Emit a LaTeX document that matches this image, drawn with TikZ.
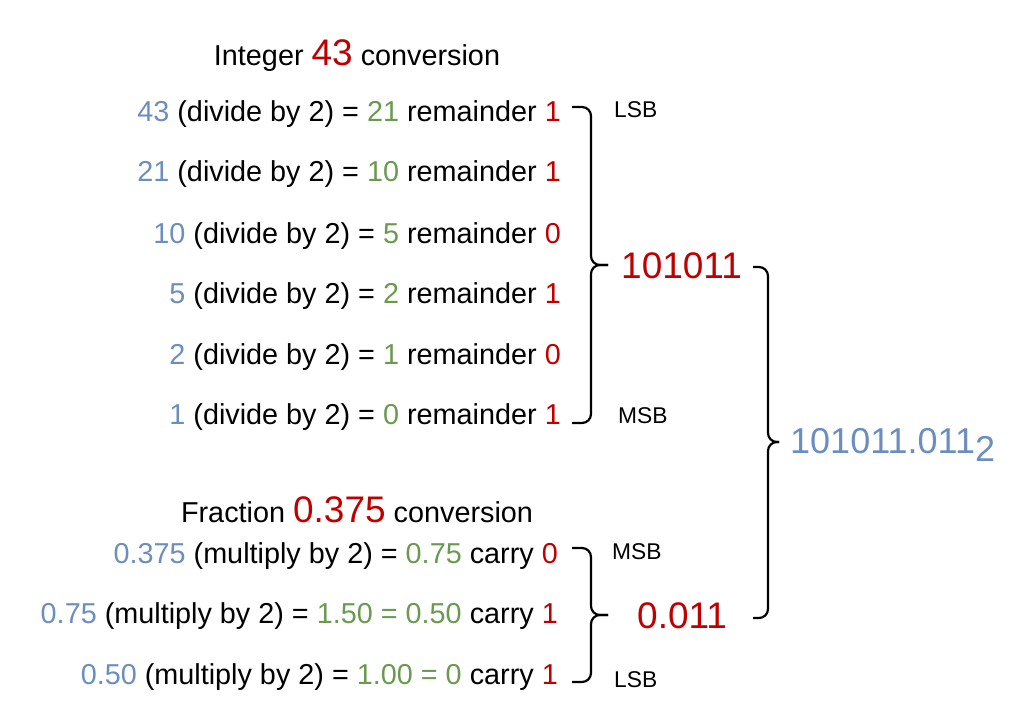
\documentclass[tikz,border=0pt]{standalone}
\usepackage{fontspec}
\setmainfont{Liberation Sans}
\definecolor{nblue}{HTML}{6C8EBF}
\definecolor{ngreen}{HTML}{6A9A4F}
\definecolor{nred}{HTML}{C00000}
\newcommand{\tblue}[1]{\textcolor{nblue}{#1}}
\newcommand{\tgreen}[1]{\textcolor{ngreen}{#1}}
\newcommand{\tred}[1]{\textcolor{nred}{#1}}
\newcommand{\tbig}{\fontsize{37}{42}\selectfont}
\begin{document}
\begin{tikzpicture}[x=1pt,y=-1pt,
  txt/.style={inner sep=0pt, font=\fontsize{28.8}{34}\selectfont},
  row/.style={txt, anchor=base east},
  title/.style={txt, anchor=base},
  bitlab/.style={inner sep=0pt, anchor=base west, font=\fontsize{22.8}{26}\selectfont},
  result/.style={inner sep=0pt, anchor=base west, font=\fontsize{37}{42}\selectfont, text=nred},
  bracel/.style={draw=black, line width=2.2pt, rounded corners=9pt}]
\useasboundingbox (0,0) rectangle (1024,722);

% integer part
\node[title] (t1) at (357,66) {Integer {\tbig\tred{43}} conversion};
\node[row] (r1) at (561,122) {\tblue{43} (divide by 2) = \tgreen{21} remainder \tred{1}};
\node[row] (r2) at (561,182) {\tblue{21} (divide by 2) = \tgreen{10} remainder \tred{1}};
\node[row] (r3) at (561,243) {\tblue{10} (divide by 2) = \tgreen{5} remainder \tred{0}};
\node[row] (r4) at (561,303) {\tblue{5} (divide by 2) = \tgreen{2} remainder \tred{1}};
\node[row] (r5) at (561,364) {\tblue{2} (divide by 2) = \tgreen{1} remainder \tred{0}};
\node[row] (r6) at (561,424) {\tblue{1} (divide by 2) = \tgreen{0} remainder \tred{1}};
\node[bitlab] (lsb1) at (614,118) {LSB};
\node[bitlab] (msb1) at (618,423) {MSB};
\node[result] (res1) at (621,278) {101011};

% fraction part
\node[title] (t2) at (357,522) {Fraction {\tbig\tred{0.375}} conversion};
\node[row] (f1) at (558,563) {\tblue{0.375} (multiply by 2) = \tgreen{0.75} carry \tred{0}};
\node[row] (f2) at (558,623) {\tblue{0.75} (multiply by 2) = \tgreen{1.50 = 0.50} carry \tred{1}};
\node[row] (f3) at (558,684) {\tblue{0.50} (multiply by 2) = \tgreen{1.00 = 0} carry \tred{1}};
\node[bitlab] (msb2) at (612,559) {MSB};
\node[bitlab] (lsb2) at (614,687) {LSB};
\node[result] (res2) at (637,628) {0.011};

% final result
\node[result, text=nblue, font=\fontsize{36}{42}\selectfont] (fin) at (790,453) {101011.011\raisebox{-8pt}{2}};

% braces
\coordinate (b1t) at (572,107);
\coordinate (b1b) at (572,423);
\coordinate (b1m) at (608,265);
\draw[bracel] (b1t) -- (591,107) -- (591,265) -- (b1m);
\draw[bracel] (b1b) -- (591,423) -- (591,265) -- (b1m);

\coordinate (b2t) at (572,548);
\coordinate (b2b) at (572,682);
\coordinate (b2m) at (608,615);
\draw[bracel] (b2t) -- (591,548) -- (591,615) -- (b2m);
\draw[bracel] (b2b) -- (591,682) -- (591,615) -- (b2m);

\coordinate (b3t) at (753,267);
\coordinate (b3b) at (753,618);
\coordinate (b3m) at (779,442);
\draw[bracel] (b3t) -- (768,267) -- (768,442) -- (b3m);
\draw[bracel] (b3b) -- (768,618) -- (768,442) -- (b3m);
\end{tikzpicture}
\end{document}
